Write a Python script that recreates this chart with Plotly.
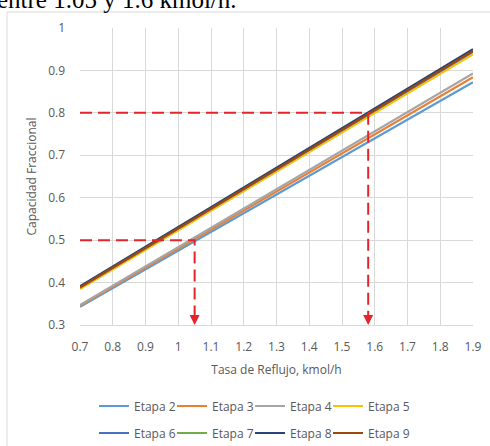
import plotly.graph_objects as go

x_vals = [0.7, 1.0, 1.3, 1.6, 1.9]
series_names = ["Etapa 2", "Etapa 3", "Etapa 4", "Etapa 5", "Etapa 6", "Etapa 7", "Etapa 8", "Etapa 9"]
etapa2 = [0.343, 0.475, 0.607, 0.740, 0.872]
etapa3 = [0.345, 0.480, 0.615, 0.749, 0.884]
etapa4 = [0.347, 0.484, 0.620, 0.757, 0.893]
etapa5 = [0.385, 0.523, 0.662, 0.800, 0.938]
etapa6 = [0.388, 0.527, 0.666, 0.805, 0.944]
etapa7 = [0.390, 0.530, 0.669, 0.809, 0.948]
etapa8 = [0.391, 0.531, 0.671, 0.810, 0.950]
etapa9 = [0.389, 0.528, 0.668, 0.807, 0.946]
series_vals = [etapa2, etapa3, etapa4, etapa5, etapa6, etapa7, etapa8, etapa9]
colors = ["#5B9BD5", "#ED7D31", "#A5A5A5", "#FFC000", "#4472C4", "#70AD47", "#264478", "#9E480E"]

ref_capacity = [0.5, 0.8]
ref_reflux = [1.05, 1.58]
x_min, x_max = 0.7, 1.9
y_min, y_max = 0.3, 1.0
x_ticks = [0.7, 0.8, 0.9, 1.0, 1.1, 1.2, 1.3, 1.4, 1.5, 1.6, 1.7, 1.8, 1.9]
x_ticktext = ["0.7", "0.8", "0.9", "1", "1.1", "1.2", "1.3", "1.4", "1.5", "1.6", "1.7", "1.8", "1.9"]
y_ticks = [0.3, 0.4, 0.5, 0.6, 0.7, 0.8, 0.9, 1.0]
y_ticktext = ["0.3", "0.4", "0.5", "0.6", "0.7", "0.8", "0.9", "1"]

RED = "#E3242B"
GRAY_TXT = "#595959"
FONT = "Open Sans"

# plot area in pixels
PL, PR, PT, PB = 80, 473, 28, 325
W, H = 490, 446


def px_x(p):
    return (p - PL) / (PR - PL)


def px_y(p):
    return (PB - p) / (PB - PT)


fig = go.Figure()
legend_layout = {}
for i, (name, vals, col) in enumerate(zip(series_names, series_vals, colors)):
    key = "legend" if i == 0 else f"legend{i + 1}"
    fig.add_trace(go.Scatter(
        x=x_vals, y=vals, mode="lines", name=name,
        line=dict(color=col, width=2.2),
        legend=key,
    ))
    row, colpos = divmod(i, 4)
    legend_layout[key] = dict(
        orientation="h", xanchor="left", yanchor="middle",
        x=px_x(94 + 78 * colpos), y=px_y(406 + 27 * row),
        font=dict(family=FONT, size=12, color=GRAY_TXT),
        bgcolor="rgba(0,0,0,0)", itemwidth=30,
    )

for rc, rx in zip(ref_capacity, ref_reflux):
    fig.add_trace(go.Scatter(
        x=[x_min, rx, rx], y=[rc, rc, y_min + 0.03], mode="lines",
        line=dict(color=RED, width=2, dash="12px,6px"),
        showlegend=False, hoverinfo="skip",
    ))
    fig.add_annotation(
        x=rx, y=y_min, ax=rx, ay=y_min + 0.035, xref="x", yref="y", axref="x", ayref="y",
        text="", showarrow=True, arrowhead=2, arrowsize=1, arrowwidth=2, arrowcolor=RED,
        standoff=0,
    )

fig.add_annotation(
    text="entre 1.05 y 1.6 kmol/h.", xref="paper", yref="paper",
    x=px_x(239), y=px_y(15), xanchor="right", yanchor="bottom",
    showarrow=False, font=dict(family="Liberation Serif", size=25, color="black"),
)

fig.add_shape(
    type="rect", xref="paper", yref="paper",
    x0=px_x(7), x1=px_x(495), y0=px_y(460), y1=px_y(12),
    line=dict(color="#D9D9D9", width=1), fillcolor="rgba(0,0,0,0)", layer="below",
)

fig.update_layout(
    width=W, height=H,
    margin=dict(l=PL, r=W - PR, t=PT, b=H - PB, autoexpand=False),
    paper_bgcolor="white", plot_bgcolor="white",
    font=dict(family=FONT, size=12, color=GRAY_TXT),
    xaxis=dict(
        range=[x_min, x_max], tickvals=x_ticks, ticktext=x_ticktext,
        showgrid=True, gridcolor="#D9D9D9", gridwidth=1, zeroline=False,
        showline=True, linecolor="#D9D9D9", ticks="", ticklabelstandoff=11,
        tickfont=dict(family=FONT, size=12, color=GRAY_TXT),
        title=dict(text="Tasa de Reflujo, kmol/h", font=dict(family=FONT, size=12, color=GRAY_TXT), standoff=11),
    ),
    yaxis=dict(
        range=[y_min, y_max], tickvals=y_ticks, ticktext=y_ticktext,
        showgrid=True, gridcolor="#D9D9D9", gridwidth=1, zeroline=False,
        showline=False, ticks="", ticklabelstandoff=14,
        tickfont=dict(family=FONT, size=12, color=GRAY_TXT),
        title=dict(text="Capacidad Fraccional", font=dict(family=FONT, size=12, color=GRAY_TXT), standoff=8),
    ),
    **legend_layout,
)

fig.write_html(
    "out.html",
    config={"displayModeBar": False},
    post_script="document.body.style.margin='0';document.body.style.overflow='hidden';",
)
